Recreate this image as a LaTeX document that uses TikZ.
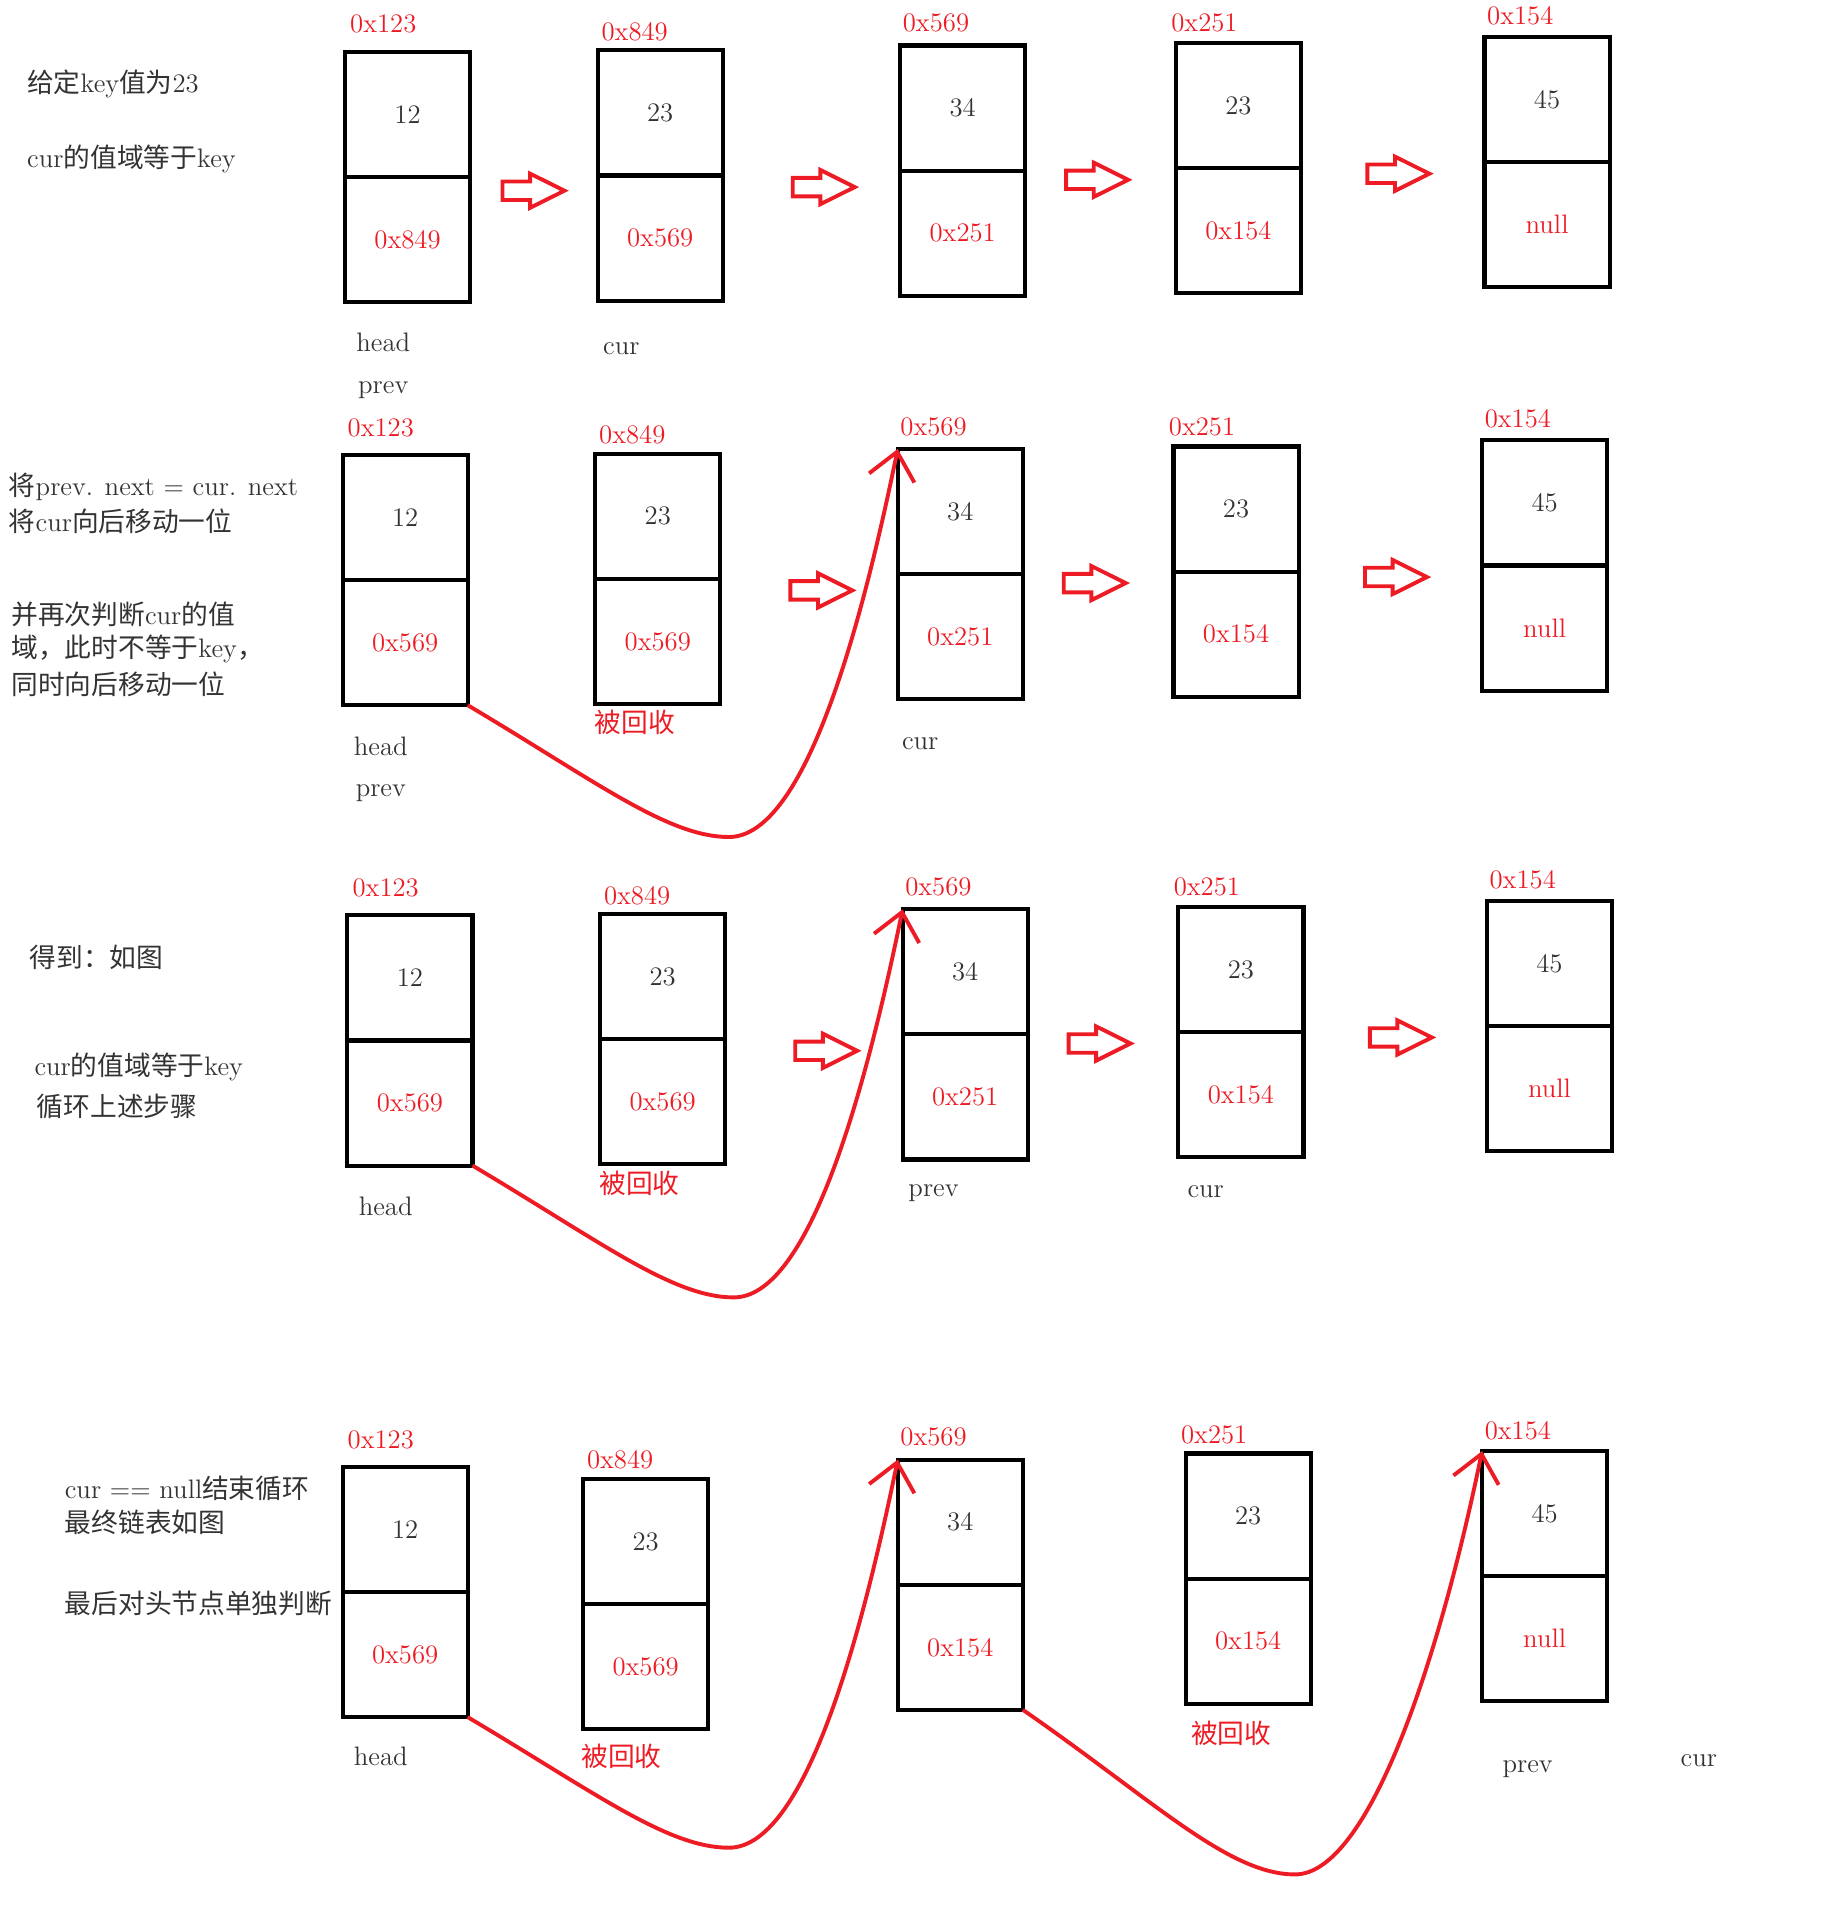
\documentclass[tikz,border=0pt]{standalone}
\usepackage{fontspec}
\newfontfamily\cjk{Noto Sans CJK SC}
\usetikzlibrary{calc,positioning,shapes.arrows,arrows.meta}
\definecolor{paintred}{RGB}{237,28,36}
\definecolor{ink}{RGB}{51,51,51}

\begin{document}
\begin{tikzpicture}[x=.5pt,y=-.5pt,
        cell/.style={draw=black,line width=1.7pt,minimum width=51.5pt,minimum height=51.5pt,
            inner sep=0pt,outer sep=0pt,font=\fontsize{11}{13}\selectfont,text=ink},
        ptr/.style={cell,text=paintred},
        addr/.style={inner sep=0pt,font=\fontsize{11}{13}\selectfont,text=paintred},
        tag/.style={inner sep=0pt,font=\fontsize{11}{13}\selectfont,text=ink},
        gone/.style={tag,text=paintred},
        note/.style={tag,anchor=west},
        hollow/.style={single arrow,draw=paintred,line width=1.6pt,inner sep=3pt,
            minimum height=25.5pt,single arrow head extend=3.25pt,single arrow tip angle=53},
        link/.style={paintred,line width=1.6pt,-{Straight Barb[length=11pt,width=19pt]}}]

        \useasboundingbox (0,0) rectangle (1515,1569);

        % First state
        \node (Note1_1) at (22,69) [note] {{\cjk 给定}key{\cjk 值为}23};
        \node (Note2_1) at (22,131) [note] {cur{\cjk 的值域等于}key};

        \node (Node1_1) at (335.5,94) [cell] {12};
        \node (Next1_1) [ptr,below=0pt of Node1_1] {0x849};
        \node (Addr1_1) at ($(Node1_1)+(-20,-74)$) [addr] {0x123};

        \node (Node2_1) at ($(Node1_1)+(208,-1)$) [cell] {23};
        \node (Next2_1) [ptr,below=0pt of Node2_1] {0x569};
        \node (Addr2_1) at ($(Node2_1)+(-21,-67)$) [addr] {0x849};

        \node (Node3_1) at ($(Node2_1)+(249,-4)$) [cell] {34};
        \node (Next3_1) [ptr,below=0pt of Node3_1] {0x251};
        \node (Addr3_1) at ($(Node3_1)+(-22,-70)$) [addr] {0x569};

        \node (Node4_1) at ($(Node3_1)+(227,-2)$) [cell] {23};
        \node (Next4_1) [ptr,below=0pt of Node4_1] {0x154};
        \node (Addr4_1) at ($(Node4_1)+(-28,-68)$) [addr] {0x251};

        \node (Node5_1) at ($(Node4_1)+(254,-5)$) [cell] {45};
        \node (Next5_1) [ptr,below=0pt of Node5_1] {null};
        \node (Addr5_1) at ($(Node5_1)+(-22,-69)$) [addr] {0x154};

        \node (Step1_1) at ($(Next1_1)+(96,-40)$) [hollow] {};
        \node (Step2_1) at ($(Next2_1)+(127,-42)$) [hollow] {};
        \node (Step3_1) at ($(Next3_1)+(103,-44)$) [hollow] {};
        \node (Step4_1) at ($(Next4_1)+(124,-47)$) [hollow] {};

        \node (Head_1) at ($(Next1_1)+(-20,85)$) [tag] {head};
        \node (Prev_1) at ($(Next1_1)+(-20,124)$) [tag] {prev};
        \node (Cur_1) at ($(Next2_1)+(-32,91)$) [tag] {cur};

        % Second state
        \node (Note1_2) at (7,401) [note] {{\cjk 将}prev. next = cur. next};
        \node (Note2_2) at (7,429) [note] {{\cjk 将}cur{\cjk 向后移动一位}};
        \node (Note3_2) at (9,506) [note] {{\cjk 并再次判断}cur{\cjk 的值}};
        \node (Note4_2) at (9,534) [note] {{\cjk 域，此时不等于}key{\cjk ，}};
        \node (Note5_2) at (9,563) [note] {{\cjk 同时向后移动一位}};

        \node (Node1_2) at ($(Node1_1)+(-2,332)$) [cell] {12};
        \node (Next1_2) [ptr,below=0pt of Node1_2] {0x569};
        \node (Addr1_2) at ($(Node1_2)+(-20,-74)$) [addr] {0x123};

        \node (Node2_2) at ($(Node1_2)+(208,-1)$) [cell] {23};
        \node (Next2_2) [ptr,below=0pt of Node2_2] {0x569};
        \node (Addr2_2) at ($(Node2_2)+(-21,-67)$) [addr] {0x849};

        \node (Node3_2) at ($(Node2_2)+(249,-4)$) [cell] {34};
        \node (Next3_2) [ptr,below=0pt of Node3_2] {0x251};
        \node (Addr3_2) at ($(Node3_2)+(-22,-70)$) [addr] {0x569};

        \node (Node4_2) at ($(Node3_2)+(227,-2)$) [cell] {23};
        \node (Next4_2) [ptr,below=0pt of Node4_2] {0x154};
        \node (Addr4_2) at ($(Node4_2)+(-28,-68)$) [addr] {0x251};

        \node (Node5_2) at ($(Node4_2)+(254,-5)$) [cell] {45};
        \node (Next5_2) [ptr,below=0pt of Node5_2] {null};
        \node (Addr5_2) at ($(Node5_2)+(-22,-69)$) [addr] {0x154};

        \node (Step2_2) at ($(Next2_2)+(127,-42)$) [hollow] {};
        \node (Step3_2) at ($(Next3_2)+(103,-44)$) [hollow] {};
        \node (Step4_2) at ($(Next4_2)+(124,-47)$) [hollow] {};

        \node (Head_2) at ($(Next1_2)+(-20,85)$) [tag] {head};
        \node (Prev_2) at ($(Next1_2)+(-20,124)$) [tag] {prev};
        \node (Gone_2) at ($(Next2_2)+(-19,67)$) [gone] {\cjk 被回收};
        \node (Cur_2) at ($(Next3_2)+(-33,88)$) [tag] {cur};

        \coordinate (Dip_2) at (600,689);
        \draw [link] (Next1_2.south east) .. controls +(106,63) and +(-50,0) .. (Dip_2)
            .. controls +(60,0) and +(-33,161) .. (Node3_2.north west);

        % Third state
        \node (Note1_3) at (24,788) [note] {\cjk 得到：如图};
        \node (Note2_3) at (28,878) [note] {cur{\cjk 的值域等于}key};
        \node (Note3_3) at (30,911) [note] {\cjk 循环上述步骤};

        \node (Node1_3) at ($(Node1_2)+(4,379)$) [cell] {12};
        \node (Next1_3) [ptr,below=0pt of Node1_3] {0x569};
        \node (Addr1_3) at ($(Node1_3)+(-20,-74)$) [addr] {0x123};

        \node (Node2_3) at ($(Node1_3)+(208,-1)$) [cell] {23};
        \node (Next2_3) [ptr,below=0pt of Node2_3] {0x569};
        \node (Addr2_3) at ($(Node2_3)+(-21,-67)$) [addr] {0x849};

        \node (Node3_3) at ($(Node2_3)+(249,-4)$) [cell] {34};
        \node (Next3_3) [ptr,below=0pt of Node3_3] {0x251};
        \node (Addr3_3) at ($(Node3_3)+(-22,-70)$) [addr] {0x569};

        \node (Node4_3) at ($(Node3_3)+(227,-2)$) [cell] {23};
        \node (Next4_3) [ptr,below=0pt of Node4_3] {0x154};
        \node (Addr4_3) at ($(Node4_3)+(-28,-68)$) [addr] {0x251};

        \node (Node5_3) at ($(Node4_3)+(254,-5)$) [cell] {45};
        \node (Next5_3) [ptr,below=0pt of Node5_3] {null};
        \node (Addr5_3) at ($(Node5_3)+(-22,-69)$) [addr] {0x154};

        \node (Step2_3) at ($(Next2_3)+(127,-42)$) [hollow] {};
        \node (Step3_3) at ($(Next3_3)+(103,-44)$) [hollow] {};
        \node (Step4_3) at ($(Next4_3)+(124,-47)$) [hollow] {};

        \node (Head_3) at ($(Next1_3)+(-20,85)$) [tag] {head};
        \node (Gone_3) at ($(Next2_3)+(-19,67)$) [gone] {\cjk 被回收};
        \node (Prev_3) at ($(Next3_3)+(-26,79)$) [tag] {prev};
        \node (Cur_3) at ($(Next4_3)+(-29,80)$) [tag] {cur};

        \coordinate (Dip_3) at (604,1068);
        \draw [link] (Next1_3.south east) .. controls +(106,63) and +(-50,0) .. (Dip_3)
            .. controls +(60,0) and +(-33,161) .. (Node3_3.north west);

        % Final state
        \node (Note1_4) at (53,1225) [note] {cur == null{\cjk 结束循环}};
        \node (Note2_4) at (53,1253) [note] {\cjk 最终链表如图};
        \node (Note3_4) at (53,1320) [note] {\cjk 最后对头节点单独判断};

        \node (Node1_4) at ($(Node1_3)+(-4,454)$) [cell] {12};
        \node (Next1_4) [ptr,below=0pt of Node1_4] {0x569};
        \node (Addr1_4) at ($(Node1_4)+(-20,-74)$) [addr] {0x123};

        \node (Node2_4) at ($(Node1_4)+(198,10)$) [cell] {23};
        \node (Next2_4) [ptr,below=0pt of Node2_4] {0x569};
        \node (Addr2_4) at ($(Node2_4)+(-21,-67)$) [addr] {0x849};

        \node (Node3_4) at ($(Node2_4)+(259,-16)$) [cell] {34};
        \node (Next3_4) [ptr,below=0pt of Node3_4] {0x154};
        \node (Addr3_4) at ($(Node3_4)+(-22,-70)$) [addr] {0x569};

        \node (Node4_4) at ($(Node3_4)+(237,-5)$) [cell] {23};
        \node (Next4_4) [ptr,below=0pt of Node4_4] {0x154};
        \node (Addr4_4) at ($(Node4_4)+(-28,-67)$) [addr] {0x251};

        \node (Node5_4) at ($(Node4_4)+(244,-2)$) [cell] {45};
        \node (Next5_4) [ptr,below=0pt of Node5_4] {null};
        \node (Addr5_4) at ($(Node5_4)+(-22,-68)$) [addr] {0x154};

        \node (Head_4) at ($(Next1_4)+(-20,84)$) [tag] {head};
        \node (Gone_4) at ($(Next2_4)+(-20,74)$) [gone] {\cjk 被回收};
        \node (Gone2_4) at ($(Next4_4)+(-14,76)$) [gone] {\cjk 被回收};
        \node (Prev_4) at ($(Next5_4)+(-14,107)$) [tag] {prev};
        \node (Cur_4) at ($(Next5_4)+(127,100)$) [tag] {cur};

        \coordinate (Dip_4) at (600,1521);
        \draw [link] (Next1_4.south east) .. controls +(106,63) and +(-50,0) .. (Dip_4)
            .. controls +(60,0) and +(-33,161) .. (Node3_4.north west);

        \coordinate (Dip2_4) at (1066,1543);
        \draw [link] (Next3_4.south east) .. controls +(107,74) and +(-55,0) .. (Dip2_4)
            .. controls +(60,0) and +(-36,175) .. (Node5_4.north west);

    \end{tikzpicture}
\end{document}
